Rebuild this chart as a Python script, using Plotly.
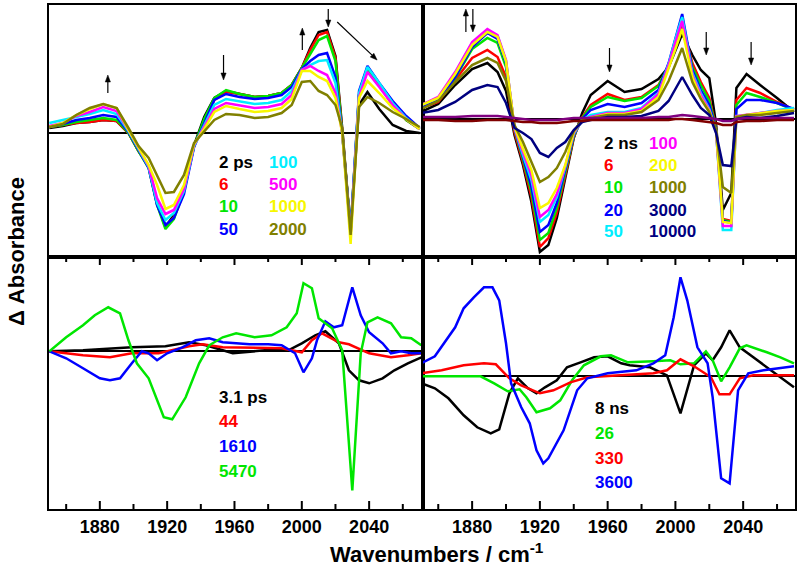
import plotly.graph_objects as go
from plotly.subplots import make_subplots

# ---------------- data (ΔA in arbitrary units) ----------------
# Top-left panel: ps delays
wn_tl = [1850, 1858, 1866, 1874, 1882, 1890, 1897, 1903, 1909, 1914, 1919, 1924, 1930, 1936,
         1942, 1948, 1955, 1963, 1972, 1980, 1988, 1994, 2000, 2005, 2010, 2015, 2020, 2024,
         2029, 2034, 2039, 2046, 2054, 2062, 2070]
tl_labels = ["2 ps", "6", "10", "50", "100", "500", "1000", "2000"]
tl_2ps = [5, 7, 10, 11, 13, 12, 0, -18, -33, -70, -94, -82, -56, -12, 16, 35, 42, 39, 36, 37, 40, 48,
          65, 85, 101, 103, 77, 5, -98, 28, 41, 24, 8, 2, 0]
tl_6 = [6, 8, 10, 11, 13, 12, 0, -18, -34, -71, -94, -84, -57, -13, 12, 33, 41, 39, 36, 37, 40, 48,
        65, 83, 98, 101, 75, 2, -98, 38, 63, 48, 28, 13, 4]
tl_10 = [6, 8, 11, 13, 15, 13, 0, -18, -35, -72, -96, -86, -58, -13, 14, 35, 43, 39, 36, 37, 40, 48,
         65, 80, 93, 97, 72, 0, -97, 38, 64, 48, 28, 13, 4]
tl_50 = [6, 9, 13, 15, 18, 16, 1, -17, -35, -72, -92, -85, -61, -14, 10, 33, 39, 36, 34, 35, 38, 46,
         64, 72, 78, 80, 56, 0, -98, 42, 67, 50, 32, 17, 5]
tl_100 = [10, 13, 16, 19, 23, 19, 2, -16, -34, -70, -87, -80, -58, -13, 8, 28, 34, 32, 29, 30, 33, 42,
          63, 68, 72, 73, 50, 0, -100, 40, 66, 50, 30, 15, 4]
tl_500 = [7, 10, 17, 21, 26, 22, 3, -15, -33, -65, -81, -77, -56, -12, 6, 24, 30, 28, 25, 26, 29, 38,
          63, 67, 62, 58, 40, 0, -102, 36, 61, 46, 28, 14, 4]
tl_1000 = [6, 10, 18, 24, 29, 25, 3, -14, -32, -52, -76, -72, -52, -11, 4, 21, 27, 24, 21, 22, 25, 34,
           62, 62, 56, 52, 35, 0, -111, 35, 52, 40, 25, 14, 4]
tl_2000 = [6, 9, 18, 25, 29, 25, 5, -13, -25, -42, -60, -59, -42, -10, 2, 13, 19, 18, 15, 16, 20, 28,
           51, 52, 42, 38, 28, 5, -102, 26, 36, 30, 21, 14, 6]

# Top-right panel: ns delays
wn_tr = [1850, 1860, 1870, 1880, 1889, 1895, 1900, 1905, 1910, 1915, 1920, 1925, 1930, 1935, 1940,
         1945, 1950, 1960, 1970, 1980, 1990, 1996, 2000, 2004, 2010, 2015, 2020, 2024, 2028, 2033,
         2036, 2042, 2050, 2060, 2070]
tr_labels = ["2 ns", "6", "10", "20", "50", "100", "200", "1000", "3000", "10000"]
tr_2 = [7, 15, 34, 50, 56, 47, 28, -16, -46, -83, -133, -126, -99, -59, -19, 6, 24, 38, 27, 30, 40,
        52, 68, 85, 64, 49, 41, -5, -91, -74, 31, 45, 34, 21, 7]
tr_6 = [11, 17, 39, 61, 69, 62, 42, -13, -43, -78, -128, -119, -94, -56, -18, 2, 14, 25, 19, 22, 34,
        52, 75, 95, 56, 37, 21, -8, -100, -102, 19, 31, 26, 17, 9]
tr_10 = [13, 19, 41, 70, 81, 76, 52, -10, -40, -73, -121, -114, -89, -53, -17, 1, 12, 22, 18, 21, 33,
         54, 78, 98, 52, 34, 18, -9, -101, -103, 14, 26, 22, 16, 9]
tr_20 = [12, 19, 42, 72, 86, 80, 56, -9, -38, -68, -113, -106, -84, -50, -16, 0, 9, 15, 12, 16, 29,
         56, 82, 105, 49, 29, 14, -10, -102, -104, 10, 19, 19, 16, 10]
tr_50 = [14, 21, 46, 76, 88, 83, 58, -9, -36, -61, -103, -96, -78, -48, -15, -1, 4, 7, 7, 11, 26,
         55, 80, 102, 46, 26, 10, -12, -111, -111, 3, 3, 6, 9, 11]
tr_100 = [14, 22, 47, 77, 90, 84, 59, -9, -33, -56, -98, -91, -75, -47, -14, -1, 2, 6, 6, 10, 25,
          54, 77, 98, 44, 24, 9, -12, -107, -107, 3, 4, 6, 8, 9]
tr_200 = [14, 21, 45, 74, 87, 82, 58, -8, -30, -51, -89, -84, -69, -46, -13, -1, 1, 5, 5, 8, 22,
          50, 70, 90, 42, 21, 8, -12, -103, -104, 2, 4, 6, 8, 9]
tr_1000 = [10, 18, 37, 54, 61, 56, 38, -6, -23, -43, -63, -58, -49, -33, -12, -1, 1, 4, 4, 7, 19,
           38, 55, 71, 37, 20, 7, -10, -68, -74, 2, 4, 4, 6, 8]
tr_3000 = [6, 9, 17, 29, 34, 32, 16, -9, -14, -20, -34, -38, -29, -23, -11, -3, -1, 2, 2, 3, 8,
           18, 30, 42, 24, 11, 4, -14, -46, -47, 0, 2, 1, 3, 6]
tr_10000 = [-1, -1, -2, -2, -1, -1, -1, -2, -3, -3, -4, -4, -4, -3, -2, -2, -1, -1, -1, -1, -1,
            -1, 0, 0, -1, -2, -3, -4, -6, -6, -3, -2, -2, -1, -1]
tr_late = [2, 2, 2, 3, 3, 3, 2, 1, 0, -1, -1, -1, -1, 0, 1, 1, 1, 1, 1, 1, 2, 2, 3, 4, 3, 2, 1, 0,
           -2, -2, 0, 1, 1, 1, 1]

# Bottom-left panel: ps decay-associated spectra
bl_labels = ["3.1 ps", "44", "1610", "5470"]
bl_31_x = [1850, 1870, 1899, 1919, 1933, 1943, 1959, 1978, 1992, 2000, 2008, 2014, 2022, 2028,
           2034, 2040, 2048, 2055, 2063, 2071]
bl_31_y = [0, 1, 4, 5, 9, 6, -2, 1, 1, 8, 16, 20, 8, -19, -29, -32, -27, -19, -12, -6]
bl_44_x = [1850, 1870, 1886, 1899, 1915, 1933, 1941, 1953, 1988, 2000, 2006, 2012, 2022, 2028,
           2040, 2053, 2063, 2071]
bl_44_y = [0, -4, -6, -2, -2, 5, 7, 4, 3, -1, 11, 18, 9, 7, -2, -6, -4, -2]
bl_1610_x = [1850, 1860, 1870, 1880, 1886, 1892, 1899, 1905, 1909, 1914, 1920, 1929, 1937, 1945,
             1953, 1969, 1980, 1988, 1996, 2001, 2006, 2009, 2014, 2019, 2024, 2030, 2035, 2040,
             2048, 2053, 2059, 2065, 2071]
bl_1610_y = [0, -7, -17, -27, -29, -27, -12, 0, -2, -9, -2, 4, 11, 13, 9, 7, 7, 6, -2, -21, -7,
             11, 30, 24, 26, 64, 36, 19, 8, -2, 0, -2, -2]
bl_5470_x = [1850, 1860, 1870, 1877, 1885, 1892, 1897, 1902, 1909, 1918, 1923, 1931, 1939, 1945,
             1953, 1961, 1972, 1982, 1991, 1997, 2001, 2006, 2010, 2018, 2024, 2030, 2035, 2039,
             2045, 2053, 2059, 2065, 2071]
bl_5470_y = [0, 14, 26, 36, 44, 38, 11, -12, -27, -66, -68, -46, -12, 6, 14, 18, 14, 16, 24, 38,
             68, 63, 33, 23, 1, -139, -2, 29, 34, 28, 14, 13, 6]

# Bottom-right panel: ns decay-associated spectra
br_labels = ["8 ns", "26", "330", "3600"]
br_8_x = [1850, 1858, 1866, 1875, 1883, 1891, 1896, 1902, 1907, 1913, 1918, 1923, 1930, 1936,
          1944, 1952, 1960, 1968, 1973, 1985, 1995, 2003, 2011, 2018, 2022, 2027, 2032, 2038,
          2046, 2054, 2062, 2070]
br_8_y = [-7, -12, -22, -39, -51, -57, -53, -17, -2, -12, -17, -11, -4, 9, 14, 19, 20, 13, 11, 9,
          1, -37, 11, 23, 16, 29, 46, 29, 19, 9, -1, -11]
br_26_x = [1850, 1885, 1893, 1901, 1908, 1912, 1918, 1926, 1932, 1939, 1946, 1956, 1962, 1972,
           1987, 1997, 2003, 2011, 2018, 2022, 2027, 2032, 2038, 2042, 2054, 2062, 2070]
br_26_y = [0, 0, -7, -15, -13, -21, -36, -32, -24, -4, 11, 20, 21, 14, 15, 16, 12, 13, 25, 16, -5,
           9, 28, 31, 24, 19, 13]
br_330_x = [1850, 1862, 1875, 1887, 1894, 1902, 1909, 1920, 1928, 1938, 1948, 1968, 1987, 1995,
            2003, 2011, 2021, 2026, 2032, 2038, 2046, 2070]
br_330_y = [3, 6, 11, 13, 12, -2, -9, -17, -14, -6, -1, 1, 3, 6, 17, 10, -1, -18, -18, -2, 1, 1]
br_3600_x = [1850, 1858, 1870, 1875, 1881, 1887, 1892, 1896, 1900, 1903, 1909, 1914, 1918, 1922,
             1925, 1934, 1942, 1948, 1960, 1977, 1987, 1994, 1999, 2003, 2007, 2013, 2019, 2022,
             2027, 2032, 2037, 2043, 2052, 2060, 2070]
br_3600_y = [13, 20, 49, 68, 79, 89, 89, 76, 33, -7, -31, -47, -74, -87, -82, -54, -14, -2, 3, 6,
             13, 21, 59, 99, 76, 29, 13, -21, -102, -107, -14, 3, 6, 8, 10]

# axis tick values (cm^-1)
major_ticks = [1880, 1920, 1960, 2000, 2040]
minor_ticks = [1860, 1900, 1940, 1980, 2020, 2060]

# ---------------- styling ----------------
BLACK, RED, GREEN, BLUE = "#000000", "#ff0000", "#00e600", "#0000ff"
CYAN, MAGENTA, YELLOW, OLIVE = "#00eeff", "#ff00ff", "#f7f700", "#808000"
NAVY, MAROON, PURPLE = "#000080", "#800000", "#800080"
FONT = "Liberation Sans, Arial, sans-serif"
LW = 2.5

ML, MR, MT, MB = 49, 3, 5, 61
W, H = 800, 570
PW, PH = W - ML - MR, H - MT - MB


def fx(px):
    return (px - ML) / PW


def fy(py):
    return 1 - (py - MT) / PH


fig = make_subplots(rows=2, cols=2, horizontal_spacing=0, vertical_spacing=0)


def add(xs, ys, color, row, col):
    fig.add_trace(go.Scatter(x=xs, y=ys, mode="lines", line=dict(color=color, width=LW),
                             showlegend=False, hoverinfo="skip"), row=row, col=col)


for ys, c in zip([tl_2ps, tl_6, tl_10, tl_50, tl_100, tl_500, tl_1000, tl_2000],
                 [BLACK, RED, GREEN, BLUE, CYAN, MAGENTA, YELLOW, OLIVE]):
    add(wn_tl, ys, c, 1, 1)

for ys, c in zip([tr_2, tr_6, tr_10, tr_20, tr_50, tr_100, tr_200, tr_1000, tr_3000, tr_late, tr_10000],
                 [BLACK, RED, GREEN, BLUE, CYAN, MAGENTA, YELLOW, OLIVE, NAVY, PURPLE, MAROON]):
    add(wn_tr, ys, c, 1, 2)

for xs, ys, c in [(bl_31_x, bl_31_y, BLACK), (bl_44_x, bl_44_y, RED),
                  (bl_1610_x, bl_1610_y, BLUE), (bl_5470_x, bl_5470_y, GREEN)]:
    add(xs, ys, c, 2, 1)

for xs, ys, c in [(br_8_x, br_8_y, BLACK), (br_26_x, br_26_y, GREEN),
                  (br_330_x, br_330_y, RED), (br_3600_x, br_3600_y, BLUE)]:
    add(xs, ys, c, 2, 2)

xsplit = fx(424)
ysplit = fy(257)
xdom = {1: [0, xsplit], 2: [xsplit, 1]}
ydom = {1: [ysplit, 1], 2: [0, ysplit]}
yranges = {(1, 1): [-124, 128], (1, 2): [-138, 114], (2, 1): [-157.7, 94.3], (2, 2): [-132.7, 119.3]}
xranges = {1: [1849.8, 2072], 2: [1851, 2070.6]}

tickfont = dict(family=FONT, size=18, color="black", weight="bold")
for r in (1, 2):
    for c in (1, 2):
        bottom = (r == 2)
        fig.update_xaxes(row=r, col=c, domain=xdom[c], range=xranges[c],
                         showline=True, mirror=True, linewidth=2, linecolor="black",
                         showgrid=False, zeroline=False, ticks="",
                         tickmode="array", tickvals=major_ticks,
                         ticktext=[str(v) for v in major_ticks],
                         showticklabels=bottom, tickfont=tickfont)
        fig.update_yaxes(row=r, col=c, domain=ydom[r], range=yranges[(r, c)],
                         showline=True, mirror=True, linewidth=2, linecolor="black",
                         showgrid=False, showticklabels=False, ticks="",
                         zeroline=True, zerolinecolor="black", zerolinewidth=2)

annotations = []
shapes = []

# inside tick marks on the bottom and top edges of the lower panels (paper-space lengths)
panel_left = {"x3": 0, "x4": 0}
for xa, col in (("x3", 1), ("x4", 2)):
    for vals, ln in ((major_ticks, 8.0), (minor_ticks, 5.0)):
        for v in vals:
            for yb, sgn in ((509.0, -1), (257.0, 1)):
                shapes.append(dict(type="line", xref=xa, yref="paper", x0=v, x1=v,
                                   y0=fy(yb), y1=fy(yb + sgn * ln), layer="above",
                                   line=dict(color="black", width=2)))


def txt(px, py, s, color, size=17):
    annotations.append(dict(x=fx(px), y=fy(py), xref="paper", yref="paper", text="<b>%s</b>" % s,
                            showarrow=False, xanchor="left", yanchor="middle",
                            font=dict(family=FONT, size=size, color=color)))


# legends
for s, c, py in zip(tl_labels[:4], [BLACK, RED, GREEN, BLUE], [162, 184, 206, 229]):
    txt(217, py, s, c)
for s, c, py in zip(tl_labels[4:], [CYAN, MAGENTA, YELLOW, OLIVE], [162, 184, 206, 229]):
    txt(268, py, s, c)
for s, c, py in zip(tr_labels[:5], [BLACK, RED, GREEN, BLUE, CYAN], [143, 165, 187, 210, 232]):
    txt(603, py, s, c)
for s, c, py in zip(tr_labels[5:], [MAGENTA, YELLOW, OLIVE, NAVY, NAVY], [143, 165, 187, 210, 232]):
    txt(649, py, s, c)
for s, c, py in zip(bl_labels, [BLACK, RED, BLUE, GREEN], [397, 421, 446, 471]):
    txt(217, py, s, c)
for s, c, py in zip(br_labels, [BLACK, GREEN, RED, BLUE], [408, 433, 458, 482]):
    txt(594, py, s, c)


def arrow(hx, hy, tx, ty, head=7.0, half=2.6):
    dx, dy = hx - tx, hy - ty
    n = (dx * dx + dy * dy) ** 0.5
    ux, uy = dx / n, dy / n
    bx, by = hx - ux * head, hy - uy * head
    shapes.append(dict(type="line", xref="paper", yref="paper",
                       x0=fx(tx), y0=fy(ty), x1=fx(bx), y1=fy(by),
                       line=dict(color="black", width=1.2)))
    p1 = (bx - uy * half, by + ux * half)
    p2 = (bx + uy * half, by - ux * half)
    path = "M %f,%f L %f,%f L %f,%f Z" % (fx(hx), fy(hy), fx(p1[0]), fy(p1[1]), fx(p2[0]), fy(p2[1]))
    shapes.append(dict(type="path", xref="paper", yref="paper", path=path,
                       fillcolor="black", line=dict(color="black", width=0.5)))


arrow(108, 75, 108, 93)
arrow(224, 80, 224, 55)
arrow(303, 28, 303, 50)
arrow(329, 27, 329, 9)
arrow(378, 60, 338, 22)
arrow(467, 9, 467, 32)
arrow(474, 32, 474, 9)
arrow(611, 72, 611, 48)
arrow(708, 55, 708, 32)
arrow(753, 65, 753, 42)

# axis titles
annotations.append(dict(x=fx(438), y=fy(553), xref="paper", yref="paper",
                        text="<b>Wavenumbers / cm<sup>-1</sup></b>", showarrow=False,
                        xanchor="center", yanchor="middle",
                        font=dict(family=FONT, size=22, color="black")))
annotations.append(dict(x=fx(16), y=fy(252), xref="paper", yref="paper",
                        text="<b>\u0394 Absorbance</b>", showarrow=False, textangle=-90,
                        xanchor="center", yanchor="middle",
                        font=dict(family=FONT, size=22, color="black")))

fig.update_layout(width=W, height=H, margin=dict(l=ML, r=MR, t=MT, b=MB),
                  paper_bgcolor="white", plot_bgcolor="white",
                  annotations=annotations, shapes=shapes)

fig.write_html("out.html", config={"displayModeBar": False},
               post_script="document.body.style.margin='0px';"
                           "document.body.style.overflow='hidden';")
